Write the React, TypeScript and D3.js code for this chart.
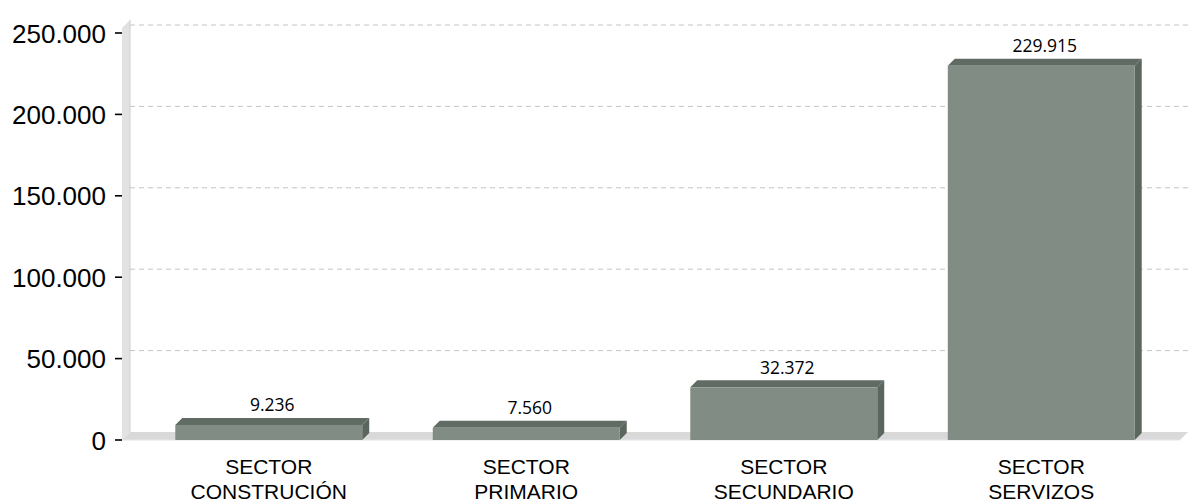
import React from "react";
import * as d3 from "d3";

const categories = ["SECTOR CONSTRUCIÓN", "SECTOR PRIMARIO", "SECTOR SECUNDARIO", "SECTOR SERVIZOS"];
const labelLines = [["SECTOR", "CONSTRUCIÓN"], ["SECTOR", "PRIMARIO"], ["SECTOR", "SECUNDARIO"], ["SECTOR", "SERVIZOS"]];
const values = [9236, 7560, 32372, 229915];
const valueLabels = ["9.236", "7.560", "32.372", "229.915"];
const yTicks = [0, 50000, 100000, 150000, 200000, 250000];
const yTickLabels = ["0", "50.000", "100.000", "150.000", "200.000", "250.000"];

const W = 1190;
const H = 502;
const D = 8; // wall depth offset
const BD = 7; // bar depth offset

export default function App() {
  const y = d3.scaleLinear().domain([0, 250000]).range([440, 33]);
  const x = d3.scaleBand<string>().domain(categories).range([140, 1170]).paddingInner(0.274).paddingOuter(0.137);
  const wallLeft = 122;
  const rightEnd = 1188;
  const top = y(250000) - 13;
  const font = "'Liberation Sans', Arial, sans-serif";

  return (
    <svg width={W} height={H} style={{ position: "absolute", left: 0, top: 0 }}>
      <rect x={0} y={0} width={W} height={H} fill="#ffffff" />
      {/* side wall */}
      <polygon
        points={`${wallLeft},${y(0)} ${wallLeft},${top + D} ${wallLeft + D},${top} ${wallLeft + D},${y(0) - D}`}
        fill="#e2e2e2"
      />
      <line x1={wallLeft + D} x2={wallLeft + D} y1={top} y2={y(0) - D} stroke="#cfcfcf" strokeWidth={1} />
      {/* gridlines */}
      {yTicks.slice(1).map((t) => (
        <line
          key={t}
          x1={wallLeft + D}
          x2={rightEnd}
          y1={y(t) - D}
          y2={y(t) - D}
          stroke="#c4c4c4"
          strokeWidth={1}
          strokeDasharray="5,4"
        />
      ))}
      {/* floor */}
      <polygon
        points={`${wallLeft},${y(0)} ${wallLeft + D},${y(0) - D} ${rightEnd},${y(0) - D} ${rightEnd - D},${y(0)}`}
        fill="#d9d9d9"
      />
      <line x1={wallLeft} x2={rightEnd - D} y1={y(0)} y2={y(0)} stroke="#e4e6ee" strokeWidth={1} />
      {/* ticks and labels */}
      {yTicks.map((t, i) => (
        <g key={t}>
          <line x1={115} x2={wallLeft} y1={y(t)} y2={y(t)} stroke="#000" strokeWidth={1.6} />
          <text
            x={106}
            y={y(t) + 9.5}
            textAnchor="end"
            fontFamily={font}
            fontSize={26}
            fill="#000"
          >
            {yTickLabels[i]}
          </text>
        </g>
      ))}
      {/* bars */}
      {categories.map((c, i) => {
        const x0 = x(c)!;
        const w = x.bandwidth();
        const y0 = y(values[i]);
        const yb = y(0);
        return (
          <g key={c}>
            <polygon
              points={`${x0 + w},${y0} ${x0 + w + BD},${y0 - BD} ${x0 + w + BD},${yb - BD} ${x0 + w},${yb}`}
              fill="#5b665e"
            />
            <polygon
              points={`${x0},${y0} ${x0 + BD},${y0 - BD} ${x0 + w + BD},${y0 - BD} ${x0 + w},${y0}`}
              fill="#606b63"
            />
            <rect x={x0} y={y0} width={w} height={yb - y0} fill="#818d84" />
            <text
              x={x0 + w / 2 + BD / 2}
              y={y0 - 13.5}
              textAnchor="middle"
              fontFamily="'Open Sans', sans-serif"
              fontSize={17.5}
              fill="#000"
            >
              {valueLabels[i]}
            </text>
            {labelLines[i].map((ln, j) => (
              <text
                key={j}
                x={x0 + w / 2}
                y={474 + j * 25}
                textAnchor="middle"
                fontFamily={font}
                fontSize={21}
                fill="#000"
              >
                {ln}
              </text>
            ))}
          </g>
        );
      })}
    </svg>
  );
}
